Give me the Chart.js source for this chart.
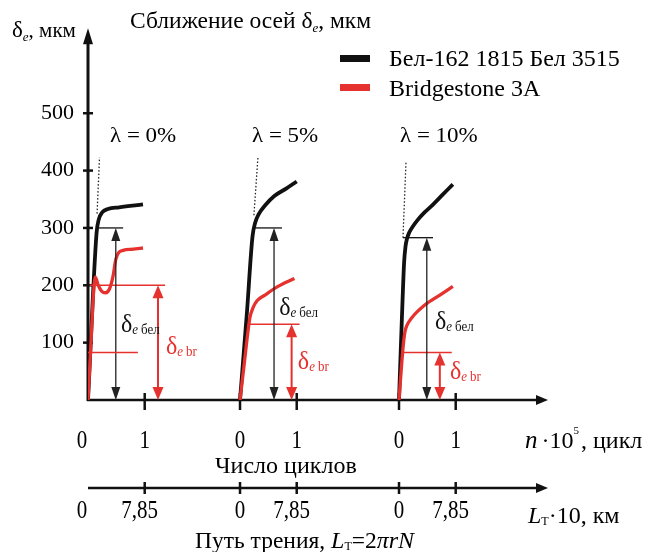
<!DOCTYPE html>
<html><head><meta charset="utf-8">
<script src="https://cdn.jsdelivr.net/npm/chart.js@4/dist/chart.umd.min.js"></script>
<style>html,body{margin:0;padding:0;background:#fff}</style>
</head><body>
<canvas id="c" width="649" height="552"></canvas>
<script>
// ---------- DATA ----------
const panelLabels = ['λ = 0%', 'λ = 5%', 'λ = 10%'];
const seriesNames = ['Бел-162 1815 Бел 3515', 'Bridgestone 3A'];
const yTickValues = [100, 200, 300, 400, 500];
const cycleTickValues = [0, 1];
const cycleTickLabels = ['0', '1'];
const pathTickLabels = ['0', '7,85'];

// Бел-162 1815 Бел 3515 (black): n·10^5 cycles -> δe, мкм
const bel0x = [0, 0.15, 0.19, 0.25, 0.35, 0.55, 0.97];
const bel0y = [0, 290, 315, 327, 333, 336, 341];
const bel1x = [0, 0.12, 0.22, 0.27, 0.33, 0.44, 0.61, 0.82, 1.0];
const bel1y = [0, 150, 285, 310, 324, 339, 356, 369, 381];
const bel2x = [0, 0.05, 0.09, 0.115, 0.14, 0.18, 0.24, 0.33, 0.45, 0.58, 0.77, 0.95];
const bel2y = [0, 140, 240, 268, 281, 292, 302, 314, 327, 339, 358, 376];

// Bridgestone 3A (red)
const br0x = [0, 0.05, 0.10, 0.13, 0.18, 0.24, 0.31, 0.38, 0.44, 0.49, 0.54, 0.62, 0.8, 0.97];
const br0y = [0, 95, 190, 214, 200, 190, 187, 194, 215, 245, 257, 261, 263, 265];
const br1x = [0, 0.065, 0.146, 0.175, 0.23, 0.30, 0.44, 0.67, 0.96];
const br1y = [0, 55, 124, 144, 161, 173, 183, 198, 212];
const br2x = [0, 0.07, 0.105, 0.14, 0.23, 0.46, 0.72, 0.95];
const br2y = [0, 90, 119, 130, 144, 166, 183, 198];

// dotted tangent lines
const tan0x = [0.16, 0.203]; const tan0y = [325, 423];
const tan1x = [0.245, 0.316]; const tan1y = [322, 423];
const tan2x = [0.07, 0.123]; const tan2y = [283, 415];

// δe levels
const belLevels = [300, 300, 283];
const brLevels = [200, 132, 83];
const brLowLevel0 = 83;

// ---------- LAYOUT (not data) ----------
const OFF = [0, 2.681, 5.485];        // panel origins on shared x scale
const BLACK = '#111111', RED = '#e6322e';
const belArrowX = [0.49, 0.60, 0.49];
const brArrowX = [1.235, 0.91, 0.72];
const belLineX = [[0.15, 0.62], [0.26, 0.74], [0.07, 0.60]];
const brLineX = [[0.03, 1.36], [0.14, 1.05], [0.05, 0.93]];
const brLowLineX0 = [0, 0.88];
const belLab = [[0.58, 118], [0.69, 149], [0.635, 124]];
const brLab = [[1.376, 80], [1.02, 54], [0.90, 37]];

const F = (s, st) => (st ? st + ' ' : '') + s + 'px "Liberation Serif", "Times New Roman", serif';

function pts(xs, ys, p) { return xs.map((x, i) => ({ x: x + OFF[p], y: ys[i] })); }

const datasets = [];
[[br0x, br0y], [br1x, br1y], [br2x, br2y]].forEach((d, p) => datasets.push({
  label: seriesNames[1], data: pts(d[0], d[1], p), borderColor: RED, borderWidth: 3.3,
  pointRadius: 0, cubicInterpolationMode: 'monotone', fill: false
}));
[[bel0x, bel0y], [bel1x, bel1y], [bel2x, bel2y]].forEach((d, p) => datasets.push({
  label: seriesNames[0], data: pts(d[0], d[1], p), borderColor: BLACK, borderWidth: 3.8,
  pointRadius: 0, cubicInterpolationMode: 'monotone', fill: false
}));
[[tan0x, tan0y], [tan1x, tan1y], [tan2x, tan2y]].forEach((d, p) => datasets.push({
  label: 'tangent', data: pts(d[0], d[1], p), borderColor: '#222', borderWidth: 1.3,
  borderDash: [1.5, 2], pointRadius: 0, fill: false
}));

function rich(ctx, x, y, segs, align, sy) {
  sy = sy || 1.0;
  let w = 0;
  segs.forEach(s => { ctx.font = s.f; s.w = ctx.measureText(s.t).width; w += s.w + (s.g || 0); });
  let cx = align === 'center' ? x - w / 2 : align === 'right' ? x - w : x;
  ctx.save();
  ctx.translate(0, y); ctx.scale(1, sy);
  ctx.textBaseline = 'alphabetic'; ctx.textAlign = 'left';
  segs.forEach(s => {
    ctx.font = s.f; ctx.fillStyle = s.c || '#000';
    ctx.fillText(s.t, cx, (s.dy || 0) / sy);
    cx += s.w + (s.g || 0);
  });
  ctx.restore();
}

function line(ctx, x1, y1, x2, y2, w, c) {
  ctx.beginPath(); ctx.moveTo(x1, y1); ctx.lineTo(x2, y2);
  ctx.lineWidth = w; ctx.strokeStyle = c; ctx.stroke();
}
function tri(ctx, ax, ay, bx, by, cx, cy, c) {
  ctx.beginPath(); ctx.moveTo(ax, ay); ctx.lineTo(bx, by); ctx.lineTo(cx, cy); ctx.closePath();
  ctx.fillStyle = c; ctx.fill();
}
function dblArrow(ctx, x, yTop, yBot, c, w, hw, hl) {
  line(ctx, x, yTop + hl - 1, x, yBot - hl + 1, w, c);
  tri(ctx, x, yTop, x - hw, yTop + hl, x + hw, yTop + hl, c);
  tri(ctx, x, yBot, x - hw, yBot - hl, x + hw, yBot - hl, c);
}

const deco = {
  id: 'deco',
  beforeDatasetsDraw(chart) {
    const ctx = chart.ctx, xs = chart.scales.x, ys = chart.scales.y, a = chart.chartArea;
    const X = v => xs.getPixelForValue(v), Y = v => ys.getPixelForValue(v);
    ctx.save();
    ctx.lineCap = 'butt';
    const x0 = X(0), y0 = Y(0);
    line(ctx, x0, y0 + 1, x0, a.top + 14, 3, BLACK);
    tri(ctx, x0, a.top + 1, x0 - 5, a.top + 17, x0 + 5, a.top + 17, BLACK);
    yTickValues.forEach(v => line(ctx, x0 - 5, Y(v), x0 + 5, Y(v), 2.5, BLACK));
    line(ctx, x0 - 1, y0, a.right - 9, y0, 2.5, BLACK);
    tri(ctx, a.right + 1, y0, a.right - 11, y0 - 5, a.right - 11, y0 + 5, BLACK);
    const yL = 488;
    line(ctx, x0, yL, a.right - 9, yL, 2.5, BLACK);
    tri(ctx, a.right + 1, yL, a.right - 11, yL - 5, a.right - 11, yL + 5, BLACK);
    OFF.forEach((o, p) => {
      cycleTickValues.forEach((v) => {
        if (p === 0 && v === 0) return;
        const px = X(o + v);
        line(ctx, px, y0 - 7, px, y0 + 10, 2.5, BLACK);
        line(ctx, px, yL - 6, px, yL + 6, 2.5, BLACK);
      });
    });
    ctx.restore();
  },
  afterDatasetsDraw(chart) {
    const ctx = chart.ctx, xs = chart.scales.x, ys = chart.scales.y;
    const X = v => xs.getPixelForValue(v), Y = v => ys.getPixelForValue(v);
    const y0 = Y(0);
    ctx.save();
    OFF.forEach((o, p) => {
      line(ctx, X(o + belLineX[p][0]), Y(belLevels[p]), X(o + belLineX[p][1]), Y(belLevels[p]), 1.3, BLACK);
      line(ctx, X(o + brLineX[p][0]), Y(brLevels[p]), X(o + brLineX[p][1]), Y(brLevels[p]), 1.5, RED);
      dblArrow(ctx, X(o + belArrowX[p]), Y(belLevels[p]), y0, '#222', 1.3, 4.5, 13);
      dblArrow(ctx, X(o + brArrowX[p]), Y(brLevels[p]), y0, RED, 2, 5.5, 13);
      rich(ctx, X(o + belLab[p][0]), Y(belLab[p][1]), [
        { t: 'δ', f: F(24), c: '#111' }, { t: 'e', f: F(13, 'italic'), c: '#111', dy: 2, g: 3 }, { t: 'бел', f: F(13), c: '#111', dy: 2 }
      ], 'left', 1.05);
      rich(ctx, X(o + brLab[p][0]), Y(brLab[p][1]), [
        { t: 'δ', f: F(24), c: RED }, { t: 'e', f: F(13, 'italic'), c: RED, dy: 2, g: 3 }, { t: 'br', f: F(13), c: RED, dy: 2 }
      ], 'left', 1.05);
    });
    line(ctx, X(brLowLineX0[0]), Y(brLowLevel0), X(brLowLineX0[1]), Y(brLowLevel0), 1.5, RED);

    const labX = [110, 252, 400];
    panelLabels.forEach((t, p) => rich(ctx, labX[p], 142, [{ t, f: F(23) }], 'left', 0.95));

    OFF.forEach((o, p) => {
      cycleTickValues.forEach((v, i) => {
        const px = X(o + v) + (p === 0 && v === 0 ? -6 : 0);
        rich(ctx, px, 448, [{ t: cycleTickLabels[i], f: F(21) }], 'center', 1.15);
        const px2 = X(o + v) + (v === 0 ? (p === 0 ? -6 : 0) : -5);
        rich(ctx, px2, 518, [{ t: pathTickLabels[i], f: F(21) }], 'center', 1.15);
      });
    });
    rich(ctx, 525, 448, [
      { t: 'n', f: F(25, 'italic'), g: 4 }, { t: '·10', f: F(24) }, { t: '5', f: F(11), dy: -14, g: 2 }, { t: ', цикл', f: F(24) }
    ], 'left', 1.0);
    rich(ctx, 528, 523, [
      { t: 'L', f: F(24, 'italic') }, { t: 'Т', f: F(12), dy: 2 }, { t: '·10', f: F(24) }, { t: ', км', f: F(24) }
    ], 'left', 1.0);
    rich(ctx, 215, 473, [{ t: 'Число циклов', f: F(24) }], 'left', 1.0);
    rich(ctx, 195, 548, [
      { t: 'Путь трения, ', f: F(23.5) }, { t: 'L', f: F(24, 'italic') }, { t: 'Т', f: F(12), dy: 2 },
      { t: '=2', f: F(23.5) }, { t: 'π', f: F(24, 'italic') }, { t: 'rN', f: F(24, 'italic') }
    ], 'left', 1.0);

    rich(ctx, 130, 28, [
      { t: 'Сближение осей δ', f: F(23.5) }, { t: 'e', f: F(13, 'italic'), dy: 4 }, { t: ', мкм', f: F(23.5) }
    ], 'left', 0.95);
    rich(ctx, 12, 37, [
      { t: 'δ', f: F(23) }, { t: 'e', f: F(13, 'italic'), dy: 4 }, { t: ', мкм', f: F(21) }
    ]);

    ctx.fillStyle = BLACK; ctx.fillRect(340, 55, 30, 7);
    ctx.fillStyle = RED; ctx.fillRect(340, 84, 30, 7);
    rich(ctx, 389, 66, [{ t: seriesNames[0], f: F(24) }]);
    rich(ctx, 389, 96, [{ t: seriesNames[1], f: F(24) }]);
    ctx.restore();
  }
};

new Chart(document.getElementById('c'), {
  type: 'line',
  data: { datasets },
  options: {
    responsive: false, animation: false,
    layout: { padding: { left: 0, right: 102, top: 16, bottom: 152 } },
    plugins: { legend: { display: false }, tooltip: { enabled: false } },
    scales: {
      x: { type: 'linear', min: 0, max: 8.095, display: false },
      y: {
        type: 'linear', min: 0, max: 650,
        afterFit: s => { s.width = 88; },
        afterBuildTicks: s => { s.ticks = yTickValues.map(v => ({ value: v })); },
        grid: { display: false, drawTicks: false },
        border: { display: false },
        ticks: { padding: 14, color: '#000', font: { family: '"Liberation Serif"', size: 22 } }
      }
    }
  },
  plugins: [deco]
});
</script>
</body></html>
